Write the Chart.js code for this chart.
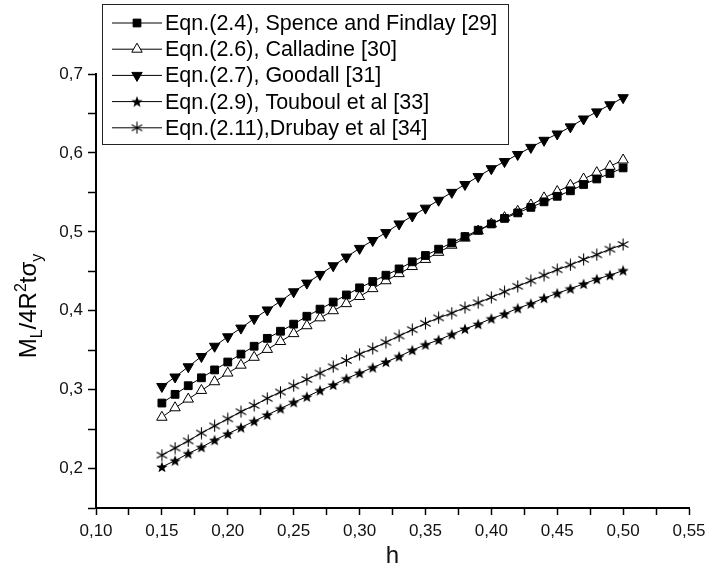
<!DOCTYPE html>
<html>
<head>
<meta charset="utf-8">
<script src="https://cdn.jsdelivr.net/npm/chart.js@4.4.1/dist/chart.umd.min.js"></script>
<style>
  html, body { margin: 0; padding: 0; background: #fff; }
  #chart { display: block; }
</style>
</head>
<body>
<canvas id="chart" width="705" height="573"></canvas>
<script>
const hValues = [0.15, 0.16, 0.17, 0.18, 0.19, 0.20, 0.21, 0.22, 0.23, 0.24, 0.25, 0.26,
  0.27, 0.28, 0.29, 0.30, 0.31, 0.32, 0.33, 0.34, 0.35, 0.36, 0.37, 0.38,
  0.39, 0.40, 0.41, 0.42, 0.43, 0.44, 0.45, 0.46, 0.47, 0.48, 0.49, 0.50];

const spenceFindlay = [0.283, 0.294, 0.305, 0.315, 0.325, 0.335, 0.345, 0.355, 0.365, 0.374, 0.383, 0.393,
  0.402, 0.411, 0.420, 0.429, 0.437, 0.445, 0.453, 0.462, 0.470, 0.478, 0.486, 0.494,
  0.502, 0.510, 0.517, 0.524, 0.531, 0.538, 0.545, 0.552, 0.560, 0.567, 0.574, 0.581];
const calladine = [0.265, 0.277, 0.288, 0.299, 0.310, 0.321, 0.331, 0.341, 0.351, 0.361, 0.371, 0.381,
  0.391, 0.400, 0.409, 0.418, 0.428, 0.438, 0.447, 0.456, 0.465, 0.474, 0.483, 0.492,
  0.501, 0.510, 0.518, 0.526, 0.534, 0.543, 0.551, 0.559, 0.567, 0.575, 0.583, 0.591];
const goodall = [0.304, 0.316, 0.329, 0.342, 0.355, 0.367, 0.378, 0.390, 0.401, 0.412, 0.424, 0.435,
  0.446, 0.457, 0.468, 0.479, 0.489, 0.499, 0.510, 0.520, 0.530, 0.540, 0.550, 0.560,
  0.570, 0.580, 0.589, 0.598, 0.607, 0.616, 0.624, 0.633, 0.643, 0.652, 0.661, 0.670];
const touboul = [0.202, 0.210, 0.219, 0.227, 0.236, 0.244, 0.252, 0.260, 0.268, 0.276, 0.284, 0.291,
  0.299, 0.306, 0.314, 0.321, 0.328, 0.335, 0.342, 0.350, 0.357, 0.363, 0.370, 0.377,
  0.383, 0.390, 0.396, 0.403, 0.409, 0.416, 0.422, 0.428, 0.434, 0.440, 0.445, 0.451];
const drubay = [0.217, 0.226, 0.235, 0.245, 0.254, 0.263, 0.272, 0.280, 0.289, 0.297, 0.305, 0.313,
  0.321, 0.329, 0.337, 0.345, 0.352, 0.360, 0.368, 0.376, 0.384, 0.391, 0.397, 0.404,
  0.410, 0.417, 0.424, 0.431, 0.438, 0.445, 0.452, 0.458, 0.465, 0.471, 0.478, 0.484];

const seriesLabels = [
  'Eqn.(2.4), Spence and Findlay [29]',
  'Eqn.(2.6), Calladine [30]',
  'Eqn.(2.7), Goodall [31]',
  'Eqn.(2.9), Touboul et al [33]',
  'Eqn.(2.11),Drubay et al [34]'
];

const FONT = '"Liberation Sans", Arial, sans-serif';

// filled five point star
function makeStar(size) {
  const c = document.createElement('canvas');
  c.width = c.height = size;
  const g = c.getContext('2d');
  const R = size / 2, r = R * 0.42;
  g.beginPath();
  for (let i = 0; i < 10; i++) {
    const a = -Math.PI / 2 + i * Math.PI / 5;
    const rad = i % 2 ? r : R;
    g.lineTo(R + rad * Math.cos(a), R + 0.5 + rad * Math.sin(a));
  }
  g.closePath();
  g.fillStyle = '#000';
  g.fill();
  return c;
}

// six spoke asterisk
function makeAsterisk(size) {
  const c = document.createElement('canvas');
  c.width = c.height = size;
  const g = c.getContext('2d');
  const R = size / 2 - 0.5;
  g.strokeStyle = '#000';
  g.lineWidth = 1.1;
  [90, 30, 150].forEach(deg => {
    const a = deg * Math.PI / 180;
    g.beginPath();
    g.moveTo(size / 2 - R * Math.cos(a), size / 2 - R * Math.sin(a));
    g.lineTo(size / 2 + R * Math.cos(a), size / 2 + R * Math.sin(a));
    g.stroke();
  });
  return c;
}

const starImg = makeStar(12);
const asteriskImg = makeAsterisk(13);

function toPoints(values) {
  return hValues.map((h, i) => ({ x: h, y: values[i] }));
}

function makeDataset(label, values, style, fill, radius, rotation) {
  return {
    label: label,
    data: toPoints(values),
    borderColor: '#000',
    borderWidth: 1,
    pointStyle: style,
    pointRadius: radius,
    pointHoverRadius: radius,
    pointRotation: rotation || 0,
    pointBackgroundColor: fill,
    pointBorderColor: '#000',
    pointBorderWidth: 1,
    fill: false,
    tension: 0
  };
}

const datasets = [
  makeDataset(seriesLabels[0], spenceFindlay, 'rect', '#000', 5.5),
  makeDataset(seriesLabels[1], calladine, 'triangle', '#fff', 6),
  makeDataset(seriesLabels[2], goodall, 'triangle', '#000', 6, 180),
  makeDataset(seriesLabels[3], touboul, starImg, '#000', 6),
  makeDataset(seriesLabels[4], drubay, asteriskImg, '#000', 6)
];

// legend box and rotated y title with sub/superscripts
const annotate = {
  id: 'annotate',
  afterDraw(chart) {
    const ctx = chart.ctx;
    ctx.save();
    ctx.lineWidth = 1;
    ctx.strokeStyle = '#222';
    ctx.fillStyle = '#fff';
    ctx.fillRect(102.5, 4.5, 406, 140);
    ctx.strokeRect(102.5, 4.5, 406, 140);

    chart.data.datasets.forEach((ds, i) => {
      const y = 23 + i * 26.2;
      ctx.strokeStyle = '#000';
      ctx.beginPath();
      ctx.moveTo(112, y);
      ctx.lineTo(162, y);
      ctx.stroke();
      ctx.fillStyle = ds.pointBackgroundColor;
      ctx.strokeStyle = ds.pointBorderColor;
      Chart.helpers.drawPoint(ctx, {
        pointStyle: ds.pointStyle,
        rotation: ds.pointRotation,
        radius: ds.pointRadius,
        borderWidth: 1
      }, 137, y);
      ctx.fillStyle = '#000';
      ctx.font = '21.5px ' + FONT;
      ctx.textBaseline = 'middle';
      ctx.textAlign = 'left';
      ctx.fillText(ds.label, 165, y + 1);
    });

    // y axis title: M_L/4R^2 t sigma_y
    const size = 24, small = 16;
    const parts = [
      { t: 'M', f: size, dy: 0 },
      { t: 'L', f: small, dy: 6 },
      { t: '/4R', f: size, dy: 0 },
      { t: '2', f: small, dy: -10 },
      { t: 't\u03C3', f: size, dy: 0 },
      { t: 'y', f: small, dy: 6 }
    ];
    let total = 0;
    parts.forEach(p => { ctx.font = p.f + 'px ' + FONT; p.w = ctx.measureText(p.t).width; total += p.w; });
    ctx.translate(36, 306);
    ctx.rotate(-Math.PI / 2);
    ctx.textBaseline = 'alphabetic';
    ctx.fillStyle = '#000';
    let x = -total / 2;
    parts.forEach(p => {
      ctx.font = p.f + 'px ' + FONT;
      ctx.fillText(p.t, x, p.dy);
      x += p.w;
    });
    ctx.restore();
  }
};

new Chart(document.getElementById('chart').getContext('2d'), {
  type: 'line',
  data: { datasets: datasets },
  options: {
    responsive: false,
    animation: false,
    devicePixelRatio: 1,
    layout: { padding: { top: 74, right: 16, left: 0, bottom: 0 } },
    plugins: { legend: { display: false }, tooltip: { enabled: false } },
    scales: {
      x: {
        type: 'linear',
        min: 0.10,
        max: 0.55,
        afterFit: scale => { scale.height = 65; scale.paddingRight = 16; scale.paddingLeft = 0; },
        ticks: {
          stepSize: 0.025,
          autoSkip: false,
          maxRotation: 0,
          padding: 6,
          color: '#111',
          font: { family: FONT, size: 17 },
          callback: (value, index) => index % 2 === 0 ? value.toFixed(2).replace('.', ',') : ''
        },
        grid: { display: true, drawOnChartArea: false, drawTicks: true, tickLength: 7, tickColor: '#000', tickWidth: 1.5 },
        border: { display: true, color: '#000', width: 2 },
        title: {
          display: true,
          text: 'h',
          color: '#111',
          font: { family: FONT, size: 24 },
          padding: { top: 0, bottom: 2 }
        }
      },
      y: {
        type: 'linear',
        min: 0.15,
        max: 0.70,
        afterFit: scale => { scale.width = 96; },
        ticks: {
          stepSize: 0.05,
          autoSkip: false,
          padding: 5,
          color: '#111',
          font: { family: FONT, size: 17 },
          callback: (value, index) => index % 2 === 1 ? value.toFixed(1).replace('.', ',') : ''
        },
        grid: { display: true, drawOnChartArea: false, drawTicks: true, tickLength: 8, tickColor: '#000', tickWidth: 1.5 },
        border: { display: true, color: '#000', width: 2 }
      }
    }
  },
  plugins: [annotate]
});
</script>
</body>
</html>
